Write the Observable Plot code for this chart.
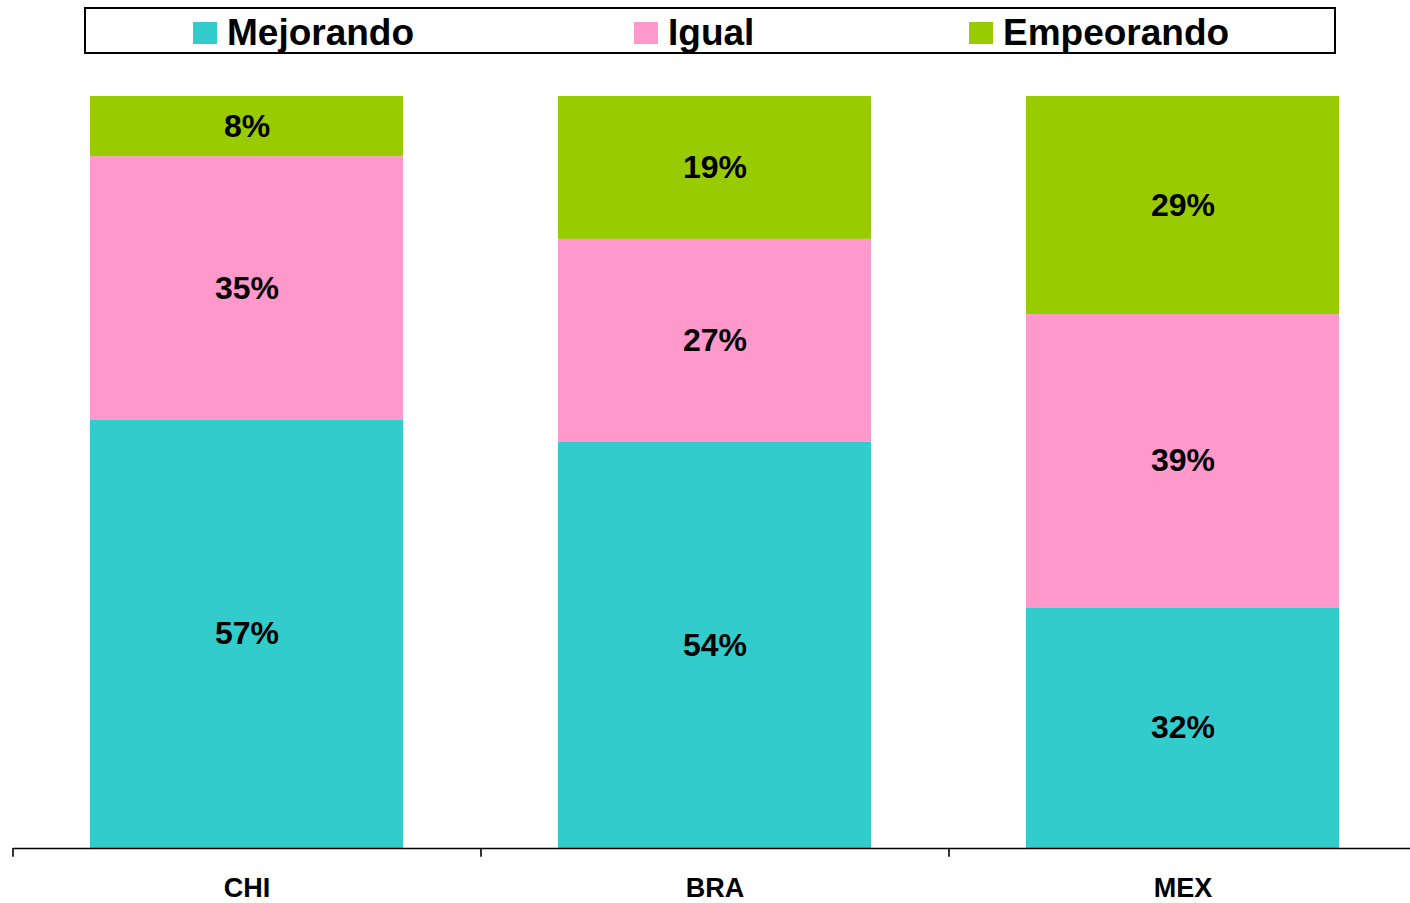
<!DOCTYPE html>
<html>
<head>
<meta charset="utf-8">
<script src="https://cdn.jsdelivr.net/npm/d3@7"></script>
<script src="https://cdn.jsdelivr.net/npm/@observablehq/plot@0.6"></script>
<style>
  html, body { margin: 0; padding: 0; background: #fff; overflow: hidden; }
  body { font-family: "Liberation Sans", Arial, sans-serif; }
  #legend { position: relative; width: 1410px; height: 60px; }
  #legend .box { position: absolute; left: 84px; top: 7px; width: 1252px; height: 47px; border: 2px solid #000; box-sizing: border-box; }
  #legend .sw { position: absolute; top: 22px; width: 24px; height: 22px; }
  #legend .lb { position: absolute; top: 12px; font-size: 37px; font-weight: bold; line-height: normal; color: #000; white-space: nowrap; }
</style>
</head>
<body>
<div id="legend"><div class="box"></div></div>
<div id="chart"></div>
<script>
const countries = ["CHI", "BRA", "MEX"];
const seriesNames = ["Mejorando", "Igual", "Empeorando"];
const mejorando = [57, 54, 32];
const igual = [35, 27, 39];
const empeorando = [8, 19, 29];
const seriesColors = ["#33CCCC", "#FF99CC", "#99CC00"];

const seriesValues = [mejorando, igual, empeorando];
const data = [];
seriesNames.forEach((s, i) => {
  countries.forEach((c, j) => {
    data.push({country: c, series: s, value: seriesValues[i][j]});
  });
});

// legend (HTML, above the SVG)
const legend = document.getElementById("legend");
const swatchX = [193, 634, 969];
seriesNames.forEach((s, i) => {
  const sw = document.createElement("div");
  sw.className = "sw";
  sw.style.left = swatchX[i] + "px";
  sw.style.background = seriesColors[i];
  legend.appendChild(sw);
  const lb = document.createElement("div");
  lb.className = "lb";
  lb.style.left = (swatchX[i] + 34) + "px";
  lb.textContent = s;
  legend.appendChild(lb);
});

const W = 1410, mL = 13, mR = -7;
const step = (W - mL - mR) / countries.length;

const chart = Plot.plot({
  width: W,
  height: 843,
  marginTop: 36,
  marginBottom: 55,
  marginLeft: mL,
  marginRight: mR,
  style: {fontFamily: "'Liberation Sans', Arial, sans-serif", fontWeight: "bold", background: "#fff", color: "#000"},
  x: {domain: countries, paddingInner: 0.331, paddingOuter: 0.1655, label: null},
  y: {domain: [0, 100], axis: null},
  color: {domain: seriesNames, range: seriesColors},
  marks: [
    Plot.barY(data, {x: "country", y: "value", fill: "series", order: seriesNames}),
    Plot.text(data, Plot.stackY({x: "country", y: "value", z: "series", order: seriesNames,
      text: d => d.value + "%", fontSize: 32, fontWeight: "bold", fill: "#000"})),
    Plot.ruleY([0], {stroke: "#000", strokeWidth: 1.6}),
    Plot.ruleX(countries, {x: d => d, dx: -step / 2, y1: 0, y2: -1.15, stroke: "#000", strokeWidth: 1.6}),
    Plot.axisX({tickSize: 0, tickPadding: 29, fontSize: 27, fontWeight: "bold", label: null})
  ]
});
document.getElementById("chart").appendChild(chart);
</script>
</body>
</html>
